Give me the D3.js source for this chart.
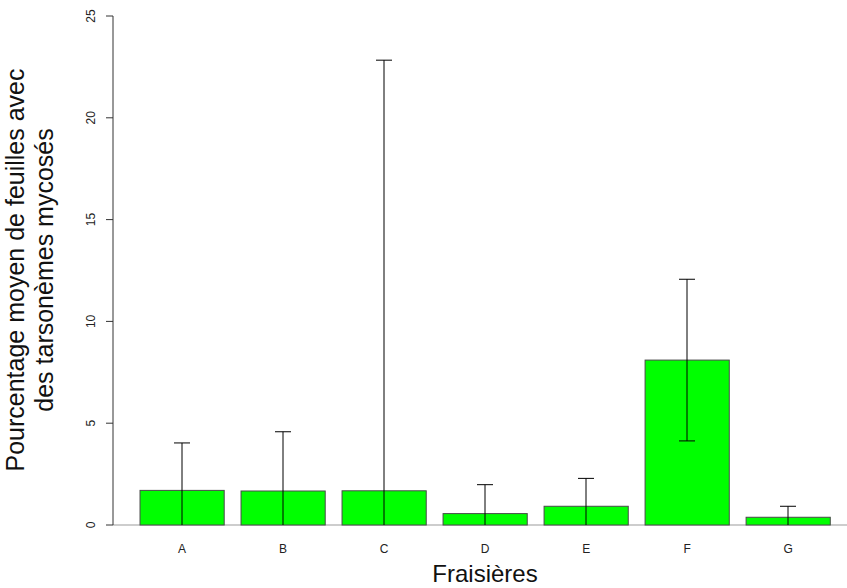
<!DOCTYPE html>
<html>
<head>
<meta charset="utf-8">
<script src="https://cdn.jsdelivr.net/npm/d3@7"></script>
<style>
  body { margin: 0; background: #fff; }
  svg { font-family: "Liberation Sans", Arial, Helvetica, sans-serif; }
</style>
</head>
<body>
<svg id="chart" width="847" height="588"></svg>
<script>
// données
var categories = ["A", "B", "C", "D", "E", "F", "G"];
var moyennes = [1.70, 1.67, 1.68, 0.56, 0.92, 8.10, 0.38];
var erreurs = [2.33, 2.91, 21.15, 1.42, 1.37, 3.97, 0.54];
var yTicks = [0, 5, 10, 15, 20, 25];

var data = categories.map(function (c, i) {
  return { cat: c, m: moyennes[i], e: erreurs[i] };
});

var svg = d3.select("#chart");

var x = d3.scaleBand()
  .domain(categories)
  .range([131.6, 838.7])
  .paddingInner(1 / 6)
  .paddingOuter(1 / 12);

var y = d3.scaleLinear().domain([0, 25]).range([525, 16]);

svg.append("defs").append("clipPath").attr("id", "plotclip")
  .append("rect")
  .attr("x", 113).attr("y", 0)
  .attr("width", 734).attr("height", y(0));

// ligne de base
svg.append("line")
  .attr("x1", 113).attr("x2", 847)
  .attr("y1", y(0)).attr("y2", y(0))
  .attr("stroke", "#bdbdbd").attr("stroke-width", 1.5);

// barres
svg.selectAll("rect.bar")
  .data(data)
  .enter()
  .append("rect")
  .attr("class", "bar")
  .attr("x", function (d) { return x(d.cat); })
  .attr("y", function (d) { return y(d.m); })
  .attr("width", x.bandwidth())
  .attr("height", function (d) { return y(0) - y(d.m); })
  .attr("fill", "#00ff00")
  .attr("stroke", "#4a4a4a")
  .attr("stroke-width", 1);

// barres d'erreur
var err = svg.append("g").attr("clip-path", "url(#plotclip)");
var cap = 8;
data.forEach(function (d) {
  var cx = Math.round(x(d.cat) + x.bandwidth() / 2);
  var hi = y(d.m + d.e), lo = y(d.m - d.e);
  err.append("line")
    .attr("x1", cx).attr("x2", cx)
    .attr("y1", hi).attr("y2", lo)
    .attr("stroke", "#000").attr("stroke-width", 1);
  [hi, lo].forEach(function (yy) {
    err.append("line")
      .attr("x1", cx - cap).attr("x2", cx + cap)
      .attr("y1", yy).attr("y2", yy)
      .attr("stroke", "#000").attr("stroke-width", 1);
  });
});

// axe y
var axe = svg.append("g");
axe.append("line")
  .attr("x1", 113).attr("x2", 113)
  .attr("y1", y(0)).attr("y2", y(25))
  .attr("stroke", "#333");
axe.selectAll("line.tick")
  .data(yTicks)
  .enter()
  .append("line")
  .attr("class", "tick")
  .attr("x1", 106).attr("x2", 113)
  .attr("y1", function (d) { return y(d); })
  .attr("y2", function (d) { return y(d); })
  .attr("stroke", "#333");
axe.selectAll("text")
  .data(yTicks)
  .enter()
  .append("text")
  .attr("transform", function (d) { return "translate(95," + y(d) + ") rotate(-90)"; })
  .attr("text-anchor", "middle")
  .attr("font-size", 12)
  .attr("fill", "#222")
  .text(function (d) { return d; });

// étiquettes des catégories
svg.selectAll("text.cat")
  .data(categories)
  .enter()
  .append("text")
  .attr("class", "cat")
  .attr("x", function (d) { return x(d) + x.bandwidth() / 2; })
  .attr("y", 553)
  .attr("text-anchor", "middle")
  .attr("font-size", 12)
  .attr("fill", "#222")
  .text(function (d) { return d; });

// titres
svg.append("text")
  .attr("x", 485).attr("y", 582)
  .attr("text-anchor", "middle")
  .attr("font-size", 24)
  .attr("fill", "#111")
  .text("Fraisières");

var ty = svg.append("text")
  .attr("transform", "translate(24,270) rotate(-90)")
  .attr("text-anchor", "middle")
  .attr("font-size", 25)
  .attr("fill", "#111");
ty.append("tspan").attr("x", 0).attr("dy", 0).text("Pourcentage moyen de feuilles avec");
ty.append("tspan").attr("x", 0).attr("dy", 28.5).text("des tarsonèmes mycosés");
</script>
</body>
</html>
